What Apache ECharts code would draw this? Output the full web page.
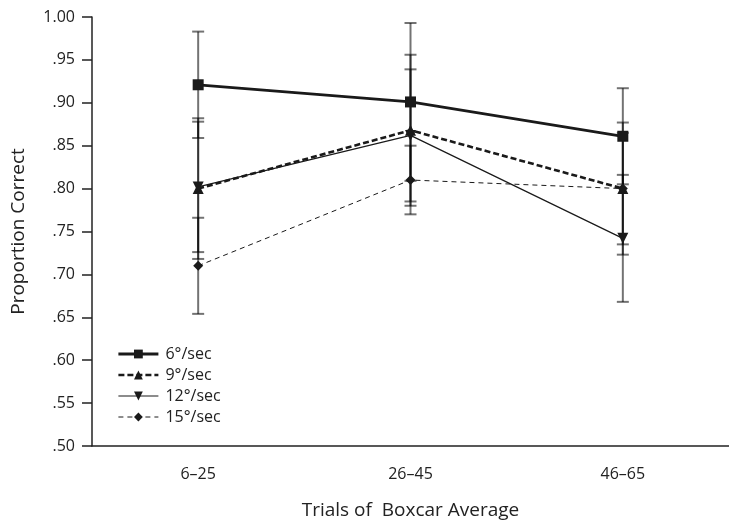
<!DOCTYPE html>
<html lang="en">
<head>
	<meta charset="UTF-8">
	<title>Proportion Correct</title>
	<style type="text/css">
		html, body { margin: 0; padding: 0; background: #fff; }
		#main { width: 729px; height: 525px; }
	</style>
	<script src="https://cdn.jsdelivr.net/npm/echarts@6/dist/echarts.min.js"></script>
</head>
<body>
	<div id="main"></div>
	<script type="text/javascript">
	// data
	var categories = ['6–25', '26–45', '46–65'];
	var speedNames = ['6°/sec', '9°/sec', '12°/sec', '15°/sec'];
	var speed6 = [0.921, 0.901, 0.861];
	var speed9 = [0.800, 0.868, 0.800];
	var speed12 = [0.802, 0.862, 0.742];
	var speed15 = [0.710, 0.810, 0.800];
	var err6 = [0.062, 0.092, 0.056];
	var err9 = [0.082, 0.088, 0.077];
	var err12 = [0.076, 0.077, 0.074];
	var err15 = [0.056, 0.040, 0.065];
	var yTicks = ['1.00', '.95', '.90', '.85', '.80', '.75', '.70', '.65', '.60', '.55', '.50'];

	var font = 'Open Sans';
	var ink = '#1a1a1a';

	function barData(vals, errs) {
		var out = [];
		for (var i = 0; i < vals.length; i++) {
			out.push([i, vals[i] - errs[i], vals[i] + errs[i]]);
		}
		return out;
	}

	function errorBars(vals, errs) {
		return {
			type: 'custom',
			z: 1,
			silent: true,
			data: barData(vals, errs),
			renderItem: function (params, api) {
				var lo = api.coord([api.value(0), api.value(1)]);
				var hi = api.coord([api.value(0), api.value(2)]);
				var hw = 6;
				var st = { stroke: 'rgba(0,0,0,0.55)', lineWidth: 2 };
				return {
					type: 'group',
					children: [
						{ type: 'line', shape: { x1: lo[0], y1: lo[1], x2: hi[0], y2: hi[1] }, style: st },
						{ type: 'line', shape: { x1: lo[0] - hw, y1: lo[1], x2: lo[0] + hw, y2: lo[1] }, style: st },
						{ type: 'line', shape: { x1: hi[0] - hw, y1: hi[1], x2: hi[0] + hw, y2: hi[1] }, style: st }
					]
				};
			}
		};
	}

	function lineSeries(name, vals, symbol, size, width, dash, rotate) {
		return {
			name: name,
			type: 'line',
			z: 3,
			data: vals,
			symbol: symbol,
			symbolSize: size,
			symbolRotate: rotate || 0,
			showAllSymbol: true,
			itemStyle: { color: ink, borderWidth: 0 },
			lineStyle: { color: ink, width: width, type: dash },
			emphasis: { disabled: true },
			animation: false
		};
	}

	var styles = [
		{ sym: 'rect', size: 11, w: 2.8, dash: 'solid', rot: 0 },
		{ sym: 'triangle', size: 11, w: 2.6, dash: [6, 3], rot: 0 },
		{ sym: 'triangle', size: 11, w: 1.2, dash: 'solid', rot: 180 },
		{ sym: 'diamond', size: 10, w: 1, dash: [5, 4], rot: 0 }
	];
	var allSpeeds = [speed6, speed9, speed12, speed15];
	var allErrs = [err6, err9, err12, err15];

	var series = [];
	var legendData = [];
	for (var k = 0; k < speedNames.length; k++) {
		series.push(errorBars(allSpeeds[k], allErrs[k]));
	}
	for (var k = 0; k < speedNames.length; k++) {
		var s = styles[k];
		series.push(lineSeries(speedNames[k], allSpeeds[k], s.sym, s.size, s.w, s.dash, s.rot));
		legendData.push({
			name: speedNames[k],
			lineStyle: { width: s.w, type: s.dash, color: ink },
			itemStyle: { color: ink }
		});
	}

	var myChart = echarts.init(document.getElementById('main'));
	var option = {
		animation: false,
		grid: { left: 92, top: 17, bottom: 76, right: -8 },
		legend: {
			orient: 'vertical',
			left: 112,
			top: 341,
			itemWidth: 40,
			itemHeight: 11,
			itemGap: 5,
			data: legendData,
			textStyle: { fontFamily: font, fontSize: 16, color: '#222', padding: [0, 0, 0, 2] }
		},
		xAxis: {
			type: 'category',
			data: categories,
			boundaryGap: true,
			name: 'Trials of  Boxcar Average',
			nameLocation: 'middle',
			nameGap: 55,
			nameTextStyle: { fontFamily: font, fontSize: 19, color: '#222' },
			axisLine: { lineStyle: { color: '#222', width: 1.5 } },
			axisTick: { alignWithLabel: true, length: 10, lineStyle: { color: '#222', width: 1.5 } },
			axisLabel: { fontFamily: font, fontSize: 16, color: '#222', margin: 20 }
		},
		yAxis: {
			type: 'value',
			min: 0.5,
			max: 1.0,
			interval: 0.05,
			name: 'Proportion Correct',
			nameLocation: 'middle',
			nameGap: 64,
			nameTextStyle: { fontFamily: font, fontSize: 19, color: '#222' },
			splitLine: { show: false },
			axisLine: { show: true, lineStyle: { color: '#222', width: 1.5 } },
			axisTick: { show: true, length: 10, lineStyle: { color: '#222', width: 1.5 } },
			axisLabel: {
				fontFamily: font, fontSize: 16, color: '#222', margin: 17,
				formatter: function (v) {
					return yTicks[Math.round((1 - v) / 0.05)];
				}
			}
		},
		series: series
	};
	myChart.setOption(option);
	</script>
</body>
</html>
